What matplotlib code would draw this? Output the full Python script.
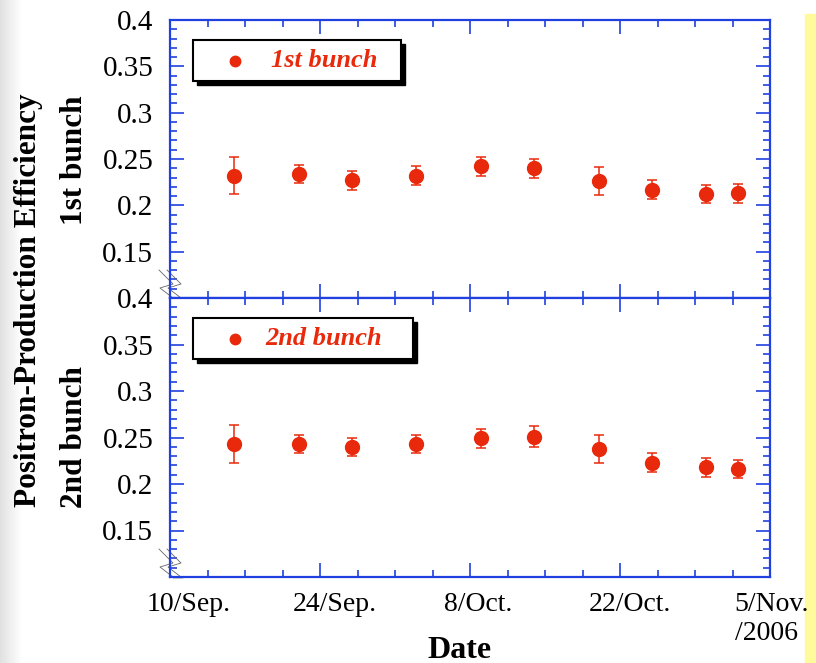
"""Positron-production efficiency of the 1st and 2nd bunch versus date."""

import numpy as np
import matplotlib
matplotlib.use("Agg")
import matplotlib.pyplot as plt
import matplotlib.transforms as mtransforms
from matplotlib.patches import Rectangle

dates = ['2006-09-16', '2006-09-22', '2006-09-27', '2006-10-03', '2006-10-09',
         '2006-10-14', '2006-10-20', '2006-10-25', '2006-10-30', '2006-11-02']
eff_1st = [0.232, 0.234, 0.227, 0.232, 0.242, 0.240, 0.226, 0.217, 0.212, 0.213]
err_1st = [0.020, 0.010, 0.010, 0.010, 0.010, 0.010, 0.015, 0.010, 0.010, 0.010]
eff_2nd = [0.243, 0.243, 0.240, 0.243, 0.249, 0.251, 0.238, 0.223, 0.218, 0.216]
err_2nd = [0.020, 0.010, 0.010, 0.010, 0.010, 0.011, 0.015, 0.010, 0.010, 0.010]

start_date = '2006-09-10'
date_labels = ['10/Sep.', '24/Sep.', '8/Oct.', '22/Oct.', '5/Nov.\n/2006']
y_ticks = [0.15, 0.2, 0.25, 0.3, 0.35, 0.4]
y_labels = ['0.15', '0.2', '0.25', '0.3', '0.35', '0.4']

RED = '#e8290b'
BLUE = '#2040e0'
SERIF = ['Liberation Serif', 'DejaVu Serif']

plt.rcParams['font.family'] = SERIF

days = (np.array(dates, dtype='datetime64[D]')
        - np.datetime64(start_date)).astype(float)

fig = plt.figure(figsize=(8.16, 6.63), dpi=100)

# page decorations: grey fade on the left, yellow strip on the right
fig.patches.append(Rectangle((805 / 816, 0), 11 / 816, 1 - 14 / 663,
                             transform=fig.transFigure, color='#fffb9c',
                             zorder=-5))
fade = fig.add_axes([0, 0, 22 / 816, 1], zorder=-10)
fade.imshow(np.linspace(0.88, 1.0, 50)[None, :], cmap='gray', vmin=0, vmax=1,
            aspect='auto', extent=(0, 1, 0, 1))
fade.axis('off')

ax1 = fig.add_axes([170 / 816, 1 - 298 / 663, 600 / 816, 278 / 663])
ax2 = fig.add_axes([170 / 816, 1 - 577 / 663, 600 / 816, 279 / 663])


def style_axis(ax, show_xlabels):
    """Blue frame with inward ticks on all four sides."""
    ax.set_xlim(0, 56)
    ax.set_ylim(0.1, 0.4)
    ax.set_xticks([0, 14, 28, 42, 56])
    ax.set_xticks(np.arange(0, 56.1, 3.5), minor=True)
    ax.set_yticks(y_ticks)
    ax.set_yticklabels(y_labels)
    ax.set_yticks(np.arange(0.1, 0.401, 0.01), minor=True)
    for sp in ax.spines.values():
        sp.set_color(BLUE)
        sp.set_linewidth(1.6)
    ax.tick_params(which='both', direction='in', color=BLUE, width=1.2,
                   top=True, right=True, labelsize=20)
    ax.tick_params(axis='y', labelsize=21)
    ax.tick_params(which='major', length=10)
    ax.tick_params(which='minor', length=5)
    ax.tick_params(axis='y', pad=12)
    if show_xlabels:
        ax.set_xticklabels(date_labels, multialignment='left')
        ax.tick_params(axis='x', pad=11)
        # labels sit a little right of their ticks in the original
        for lab, dx in zip(ax.get_xticklabels(), [19, 15, 8, 10, 2]):
            lab.set_transform(lab.get_transform() + mtransforms.ScaledTranslation(
                dx / 100, 0, fig.dpi_scale_trans))
    else:
        ax.set_xticklabels([])


def break_mark(ax, height_px):
    """Grey zig-zag axis-break symbol at the lower left corner."""
    xs = np.array([-11, 3, -10, 3])
    ys = np.array([28, 14, 10, 0])
    for shift in (0, 8):
        ax.plot((xs + shift) / 600, ys / height_px, color='0.4', lw=0.6,
                transform=ax.transAxes, clip_on=False)
    ax.plot([3 / 600, 12 / 600], [0, 0], color='black', lw=1,
            transform=ax.transAxes, clip_on=False)


def key_box(ax, label, x1, top, bottom):
    """Legend box with a solid black drop shadow."""
    x0 = 23 / 600
    h = top - bottom
    ax.add_patch(Rectangle((x0 + 4 / 600, bottom - 4 / 280), x1 - x0, h,
                           transform=ax.transAxes, facecolor='black',
                           edgecolor='black', zorder=5, clip_on=False))
    ax.add_patch(Rectangle((x0, bottom), x1 - x0, h, transform=ax.transAxes,
                           facecolor='white', edgecolor='black', lw=1.5,
                           zorder=6, clip_on=False))
    ax.plot([x0 + 42 / 600], [bottom + h / 2], 'o', color=RED, ms=7.5,
            transform=ax.transAxes, zorder=7)
    ax.text(x0 + 131 / 600, bottom + h / 2, label, color=RED, fontsize=19,
            style='italic', weight='bold', ha='center', va='center',
            transform=ax.transAxes, zorder=7)


for ax, eff, err, label, x1 in [(ax1, eff_1st, err_1st, '1st bunch', 231 / 600),
                                (ax2, eff_2nd, err_2nd, '2nd bunch', 243 / 600)]:
    ax.errorbar(days, eff, yerr=err, fmt='o', color=RED, ms=10, elinewidth=1.1,
                capsize=3.5, capthick=1.1, zorder=4)
    style_axis(ax, ax is ax2)
    key_box(ax, label, x1, 0.928, 0.78)

break_mark(ax1, 278)
break_mark(ax2, 279)

fig.text(29 / 816, 1 - 300 / 663, 'Positron-Production Efficiency',
         rotation=90, ha='center', va='center', fontsize=22.5, weight='bold')
fig.text(74 / 816, 1 - 160 / 663, '1st bunch', rotation=90, ha='center',
         va='center', fontsize=22.5, weight='bold')
fig.text(74 / 816, 1 - 437 / 663, '2nd bunch', rotation=90, ha='center',
         va='center', fontsize=22.5, weight='bold')
fig.text(459 / 816, 1 - 650 / 663, 'Date', ha='center', va='center',
         fontsize=23, weight='bold')

fig.savefig('out.png', dpi=100)
